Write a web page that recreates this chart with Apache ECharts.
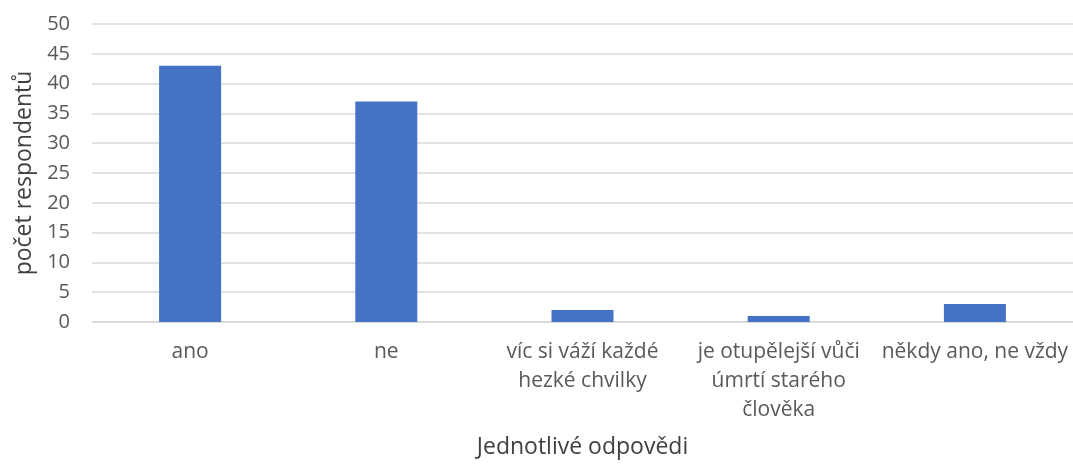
<!DOCTYPE html>
<html><head><meta charset="utf-8">
<script src="https://cdn.jsdelivr.net/npm/echarts@6/dist/echarts.min.js"></script>
<style>html,body{margin:0;padding:0;background:#fff}#c{width:1073px;height:464px}</style>
</head><body><div id="c"></div>
<script>
const categories = ['ano', 'ne', 'víc si váží každé\nhezké chvilky', 'je otupělejší vůči\númrtí starého\nčlověka', 'někdy ano, ne vždy'];
const values = [43, 37, 2, 1, 3];
const yTicks = { min: 0, max: 50, interval: 5 };
const xTitle = 'Jednotlivé odpovědi';
const yTitle = 'počet respondentů';

const chart = echarts.init(document.getElementById('c'), null, { renderer: 'canvas' });
const font = '"Open Sans", "Noto Sans", sans-serif';
chart.setOption({
  animation: false,
  textStyle: { fontFamily: font },
  grid: { left: 92, right: 0, top: 24, bottom: 142, containLabel: false, outerBoundsMode: 'none' },
  xAxis: {
    type: 'category',
    data: categories,
    axisLine: { lineStyle: { color: '#d9d9d9', width: 1.5 } },
    axisTick: { show: false },
    axisLabel: { color: '#595959', fontSize: 21, lineHeight: 29, margin: 16, fontFamily: font, interval: 0 },
    name: xTitle,
    nameLocation: 'middle',
    nameGap: 114,
    nameTextStyle: { color: '#404040', fontSize: 23, fontFamily: font }
  },
  yAxis: {
    type: 'value',
    min: yTicks.min, max: yTicks.max, interval: yTicks.interval,
    axisLine: { show: false },
    axisTick: { show: false },
    splitLine: { lineStyle: { color: '#d9d9d9', width: 1.5 } },
    axisLabel: { color: '#595959', fontSize: 20, margin: 22, fontFamily: font },
    name: yTitle,
    nameLocation: 'middle',
    nameGap: 56,
    nameRotate: 90,
    nameTextStyle: { color: '#404040', fontSize: 23, fontFamily: font }
  },
  series: [{
    type: 'bar',
    data: values,
    barWidth: 62,
    itemStyle: { color: '#4472c4' }
  }]
});
</script>
</body></html>
